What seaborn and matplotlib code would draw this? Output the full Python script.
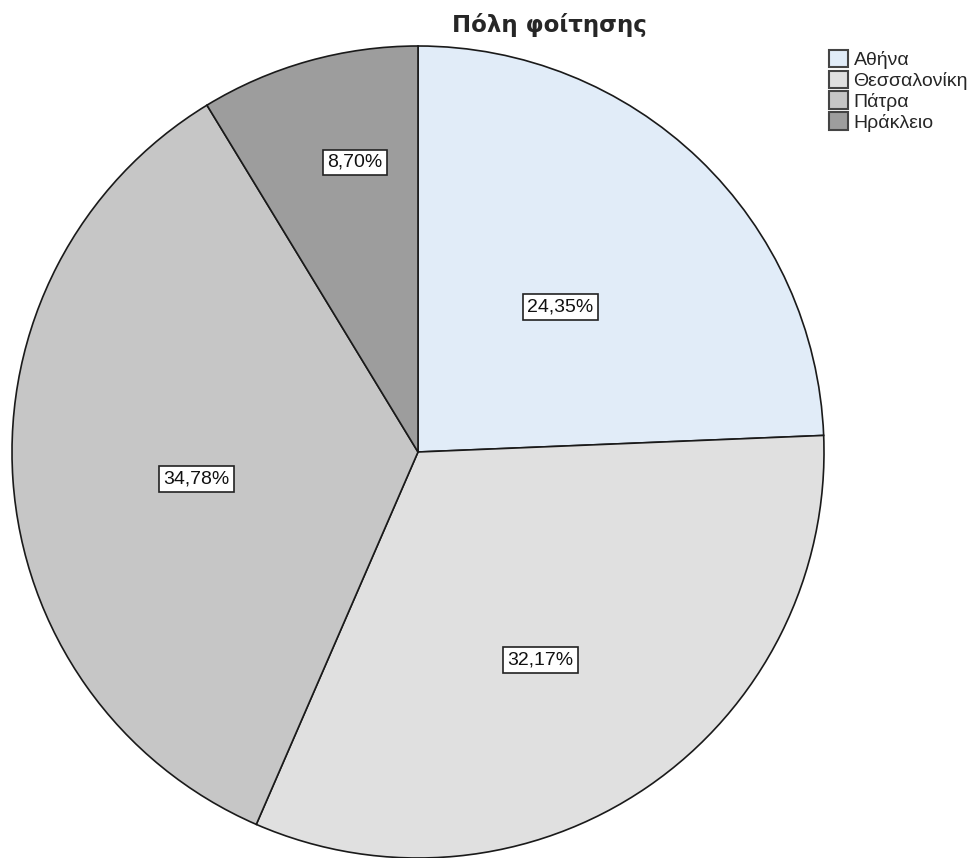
import numpy as np
import matplotlib.pyplot as plt
import seaborn as sns

# data
cities = ["Αθήνα", "Θεσσαλονίκη", "Πάτρα", "Ηράκλειο"]
percents = [24.35, 32.17, 34.78, 8.70]
colors = ["#E1ECF8", "#E0E0E0", "#C6C6C6", "#9D9D9D"]

# where each percent box sits: fraction of radius, angle shift from wedge middle (deg)
label_dist = [0.50, 0.594, 0.55, 0.73]
label_shift = [-0.6, -4.0, 3.0, -3.4]

sns.set_style("white")
plt.rcParams["font.family"] = ["Liberation Sans", "DejaVu Sans"]

W, H = 971, 858
fig = plt.figure(figsize=(W / 100, H / 100), dpi=100)
ax = fig.add_axes([0, 0, 1, 1])

cx, cy, r = 418, H - 452, 406
wedges, _ = ax.pie(percents, colors=colors, startangle=90, counterclock=False,
                   center=(cx, cy), radius=r, frame=True,
                   wedgeprops=dict(edgecolor="#1a1a1a", linewidth=1.2))
ax.set_xlim(0, W)
ax.set_ylim(0, H)
ax.set_aspect("equal")
ax.axis("off")

# percent labels in boxes
for w, p, d, s in zip(wedges, percents, label_dist, label_shift):
    ang = np.deg2rad((w.theta1 + w.theta2) / 2 + s)
    x = cx + d * r * np.cos(ang)
    y = cy + d * r * np.sin(ang)
    ax.text(x, y, f"{p:.2f}%".replace(".", ","), ha="center", va="center",
            fontsize=14, color="#111111",
            bbox=dict(boxstyle="square,pad=0.22", facecolor="white",
                      edgecolor="#222222", linewidth=1.2))

ax.text(549, H - 25, "Πόλη φοίτησης", ha="center", va="center",
        fontsize=16.5, fontweight="bold", family=["DejaVu Sans"])

leg = ax.legend(wedges, cities, loc="upper left", bbox_to_anchor=(829 / W, 1 - 50 / H),
                bbox_transform=fig.transFigure, frameon=False, fontsize=14,
                handlelength=1.0, handleheight=1.0, handletextpad=0.26,
                labelspacing=0.07, borderaxespad=0, borderpad=0)
for h in leg.legend_handles:
    h.set_edgecolor("#444444")
    h.set_linewidth(1.5)

fig.savefig("out.png", dpi=100)
